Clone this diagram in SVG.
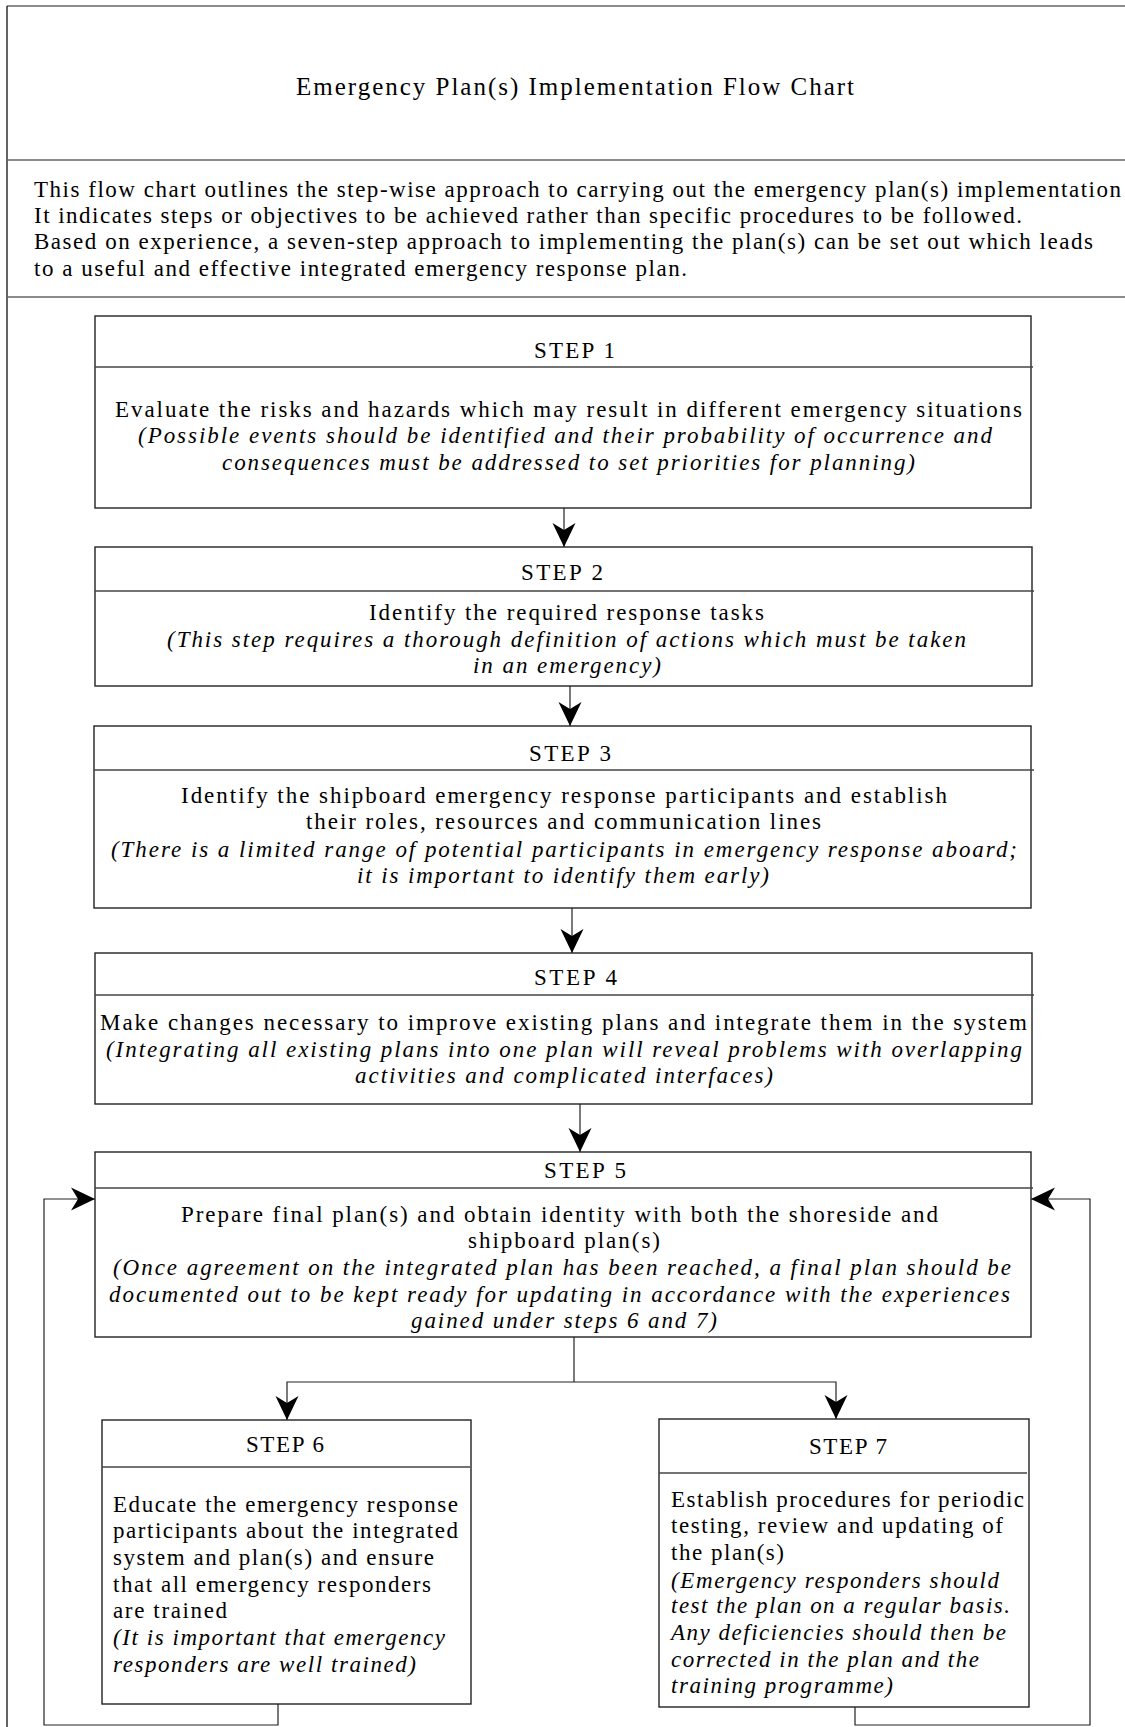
<svg xmlns="http://www.w3.org/2000/svg" width="1125" height="1727" viewBox="0 0 1125 1727">
<style>
.frame{stroke:#111;stroke-width:1.3;fill:none}
.sep{stroke:#666;stroke-width:1.5;fill:none}
.box{fill:#fff;stroke:#222;stroke-width:1.4}
.div{stroke:#444;stroke-width:1.4}
.con{fill:none;stroke:#222;stroke-width:1.2}
text{font-family:"Liberation Serif","Times New Roman",serif;font-size:23px;fill:#000}
.i{font-style:italic}
.ttl{font-size:25px}
</style>
<defs>
<marker id="ah" viewBox="0 0 24 24" refX="24" refY="12" markerWidth="24" markerHeight="24" markerUnits="userSpaceOnUse" orient="auto">
<path d="M0,0.5 L24,12 L0,23.5 L7,12 Z" fill="#000"/>
</marker>
</defs>
<rect width="1125" height="1727" fill="#fff"/>
<g id="frame">
<line class="sep" x1="7" y1="6" x2="1125" y2="6"/>
<line class="frame" x1="7" y1="6" x2="7" y2="1727"/>
<line class="sep" x1="7" y1="160" x2="1125" y2="160"/>
<line class="sep" x1="7" y1="297" x2="1125" y2="297"/>
</g>
<g id="title">
<text class="ttl" x="296" y="95" textLength="558" lengthAdjust="spacing">Emergency Plan(s) Implementation Flow Chart</text>
</g>
<g id="intro">
<text x="34" y="197" textLength="1087" lengthAdjust="spacing">This flow chart outlines the step-wise approach to carrying out the emergency plan(s) implementation</text>
<text x="34" y="223" textLength="988" lengthAdjust="spacing">It indicates steps or objectives to be achieved rather than specific procedures to be followed.</text>
<text x="34" y="249" textLength="1059" lengthAdjust="spacing">Based on experience, a seven-step approach to implementing the plan(s) can be set out which leads</text>
<text x="34" y="276" textLength="653" lengthAdjust="spacing">to a useful and effective integrated emergency response plan.</text>
</g>
<g id="connectors">
<line class="con" x1="564" y1="508" x2="564" y2="547" marker-end="url(#ah)"/>
<line class="con" x1="570" y1="686" x2="570" y2="726" marker-end="url(#ah)"/>
<line class="con" x1="572" y1="908" x2="572" y2="953" marker-end="url(#ah)"/>
<line class="con" x1="580" y1="1104" x2="580" y2="1152" marker-end="url(#ah)"/>
<polyline class="con" points="574,1337 574,1382"/>
<polyline class="con" points="574,1382 287,1382 287,1420" marker-end="url(#ah)"/>
<polyline class="con" points="574,1382 836,1382 836,1419" marker-end="url(#ah)"/>
<polyline class="con" points="278,1704 278,1725 44,1725 44,1199 95,1199" marker-end="url(#ah)"/>
<polyline class="con" points="855,1707 855,1725 1090,1725 1090,1199 1031,1199" marker-end="url(#ah)"/>
</g>
<g id="step1">
<rect class="box" x="95" y="316" width="936" height="192"/>
<line class="div" x1="95" y1="367" x2="1033" y2="367"/>
<text x="534" y="358" textLength="81" lengthAdjust="spacing">STEP 1</text>
<text x="115" y="417" textLength="907" lengthAdjust="spacing">Evaluate the risks and hazards which may result in different emergency situations</text>
<text class="i" x="138" y="443" textLength="854" lengthAdjust="spacing">(Possible events should be identified and their probability of occurrence and</text>
<text class="i" x="222" y="470" textLength="693" lengthAdjust="spacing">consequences must be addressed to set priorities for planning)</text>
</g>
<g id="step2">
<rect class="box" x="95" y="547" width="937" height="139"/>
<line class="div" x1="95" y1="591" x2="1034" y2="591"/>
<text x="521" y="580" textLength="82" lengthAdjust="spacing">STEP 2</text>
<text x="369" y="620" textLength="395" lengthAdjust="spacing">Identify the required response tasks</text>
<text class="i" x="167" y="647" textLength="799" lengthAdjust="spacing">(This step requires a thorough definition of actions which must be taken</text>
<text class="i" x="473" y="673" textLength="188" lengthAdjust="spacing">in an emergency)</text>
</g>
<g id="step3">
<rect class="box" x="94" y="726" width="937" height="182"/>
<line class="div" x1="94" y1="770" x2="1034" y2="770"/>
<text x="529" y="761" textLength="82" lengthAdjust="spacing">STEP 3</text>
<text x="181" y="803" textLength="766" lengthAdjust="spacing">Identify the shipboard emergency response participants and establish</text>
<text x="306" y="829" textLength="515" lengthAdjust="spacing">their roles, resources and communication lines</text>
<text class="i" x="111" y="857" textLength="906" lengthAdjust="spacing">(There is a limited range of potential participants in emergency response aboard;</text>
<text class="i" x="357" y="883" textLength="412" lengthAdjust="spacing">it is important to identify them early)</text>
</g>
<g id="step4">
<rect class="box" x="95" y="953" width="937" height="151"/>
<line class="div" x1="95" y1="995" x2="1034" y2="995"/>
<text x="534" y="985" textLength="83" lengthAdjust="spacing">STEP 4</text>
<text x="100" y="1030" textLength="927" lengthAdjust="spacing">Make changes necessary to improve existing plans and integrate them in the system</text>
<text class="i" x="106" y="1057" textLength="916" lengthAdjust="spacing">(Integrating all existing plans into one plan will reveal problems with overlapping</text>
<text class="i" x="355" y="1083" textLength="418" lengthAdjust="spacing">activities and complicated interfaces)</text>
</g>
<g id="step5">
<rect class="box" x="95" y="1152" width="936" height="185"/>
<line class="div" x1="95" y1="1188" x2="1033" y2="1188"/>
<text x="544" y="1178" textLength="82" lengthAdjust="spacing">STEP 5</text>
<text x="181" y="1222" textLength="757" lengthAdjust="spacing">Prepare final plan(s) and obtain identity with both the shoreside and</text>
<text x="468" y="1248" textLength="192" lengthAdjust="spacing">shipboard plan(s)</text>
<text class="i" x="113" y="1275" textLength="898" lengthAdjust="spacing">(Once agreement on the integrated plan has been reached, a final plan should be</text>
<text class="i" x="109" y="1302" textLength="901" lengthAdjust="spacing">documented out to be kept ready for updating in accordance with the experiences</text>
<text class="i" x="411" y="1328" textLength="306" lengthAdjust="spacing">gained under steps 6 and 7)</text>
</g>
<g id="step6">
<rect class="box" x="102" y="1420" width="369" height="284"/>
<line class="div" x1="102" y1="1467" x2="470" y2="1467"/>
<text x="246" y="1452" textLength="78" lengthAdjust="spacing">STEP 6</text>
<text x="113" y="1512" textLength="345" lengthAdjust="spacing">Educate the emergency response</text>
<text x="113" y="1538" textLength="345" lengthAdjust="spacing">participants about the integrated</text>
<text x="113" y="1565" textLength="321" lengthAdjust="spacing">system and plan(s) and ensure</text>
<text x="113" y="1592" textLength="318" lengthAdjust="spacing">that all emergency responders</text>
<text x="113" y="1618" textLength="114" lengthAdjust="spacing">are trained</text>
<text class="i" x="113" y="1645" textLength="332" lengthAdjust="spacing">(It is important that emergency</text>
<text class="i" x="113" y="1672" textLength="303" lengthAdjust="spacing">responders are well trained)</text>
</g>
<g id="step7">
<rect class="box" x="659" y="1419" width="370" height="288"/>
<line class="div" x1="659" y1="1473" x2="1027" y2="1473"/>
<text x="809" y="1454" textLength="78" lengthAdjust="spacing">STEP 7</text>
<text x="671" y="1507" textLength="353" lengthAdjust="spacing">Establish procedures for periodic</text>
<text x="671" y="1533" textLength="332" lengthAdjust="spacing">testing, review and updating of</text>
<text x="671" y="1560" textLength="113" lengthAdjust="spacing">the plan(s)</text>
<text class="i" x="671" y="1588" textLength="328" lengthAdjust="spacing">(Emergency responders should</text>
<text class="i" x="671" y="1613" textLength="339" lengthAdjust="spacing">test the plan on a regular basis.</text>
<text class="i" x="671" y="1640" textLength="335" lengthAdjust="spacing">Any deficiencies should then be</text>
<text class="i" x="671" y="1667" textLength="308" lengthAdjust="spacing">corrected in the plan and the</text>
<text class="i" x="671" y="1693" textLength="222" lengthAdjust="spacing">training programme)</text>
</g>
</svg>
